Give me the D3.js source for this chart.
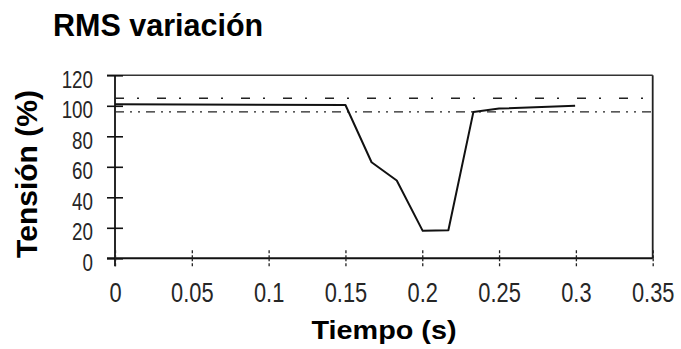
<!DOCTYPE html>
<html>
  <head>
    <title>RMS variación</title>
    <script src="https://d3js.org/d3.v7.min.js"></script>
    <style>
      body { margin: 0; background: #fff; }
      .tick text { font-family: "Liberation Sans", Arial, sans-serif; fill: #262626; }
      .title { font-family: "Liberation Sans", Arial, sans-serif; font-weight: bold; fill: #000; }
    </style>
  </head>
  <body>
    <svg width="681" height="349"></svg>

    <script type="text/javascript">
      // waveform
      var tiempo = [0, 0.15, 0.167, 0.1834, 0.2003, 0.217, 0.2333, 0.25, 0.2995];
      var tension = [101, 100.5, 63, 51, 18, 18.4, 96, 98.2, 100];

      // limit lines
      var limiteSup = 105;
      var limiteInf = 96;

      var xTicks = [0, 0.05, 0.1, 0.15, 0.2, 0.25, 0.3, 0.35];
      var xLabels = ["0", "0.05", "0.1", "0.15", "0.2", "0.25", "0.3", "0.35"];
      var yTicks = [0, 20, 40, 60, 80, 100, 120];
      var yLabels = ["0", "20", "40", "60", "80", "100", "120"];

      var svg = d3.select("svg");

      var x = d3.scaleLinear().domain([0, 0.35]).range([115, 652.7]);
      var y = d3.scaleLinear().domain([0, 120]).range([258.3, 75.3]);

      // frame: top and right border, axis lines
      svg.append("line")
        .attr("x1", 107).attr("x2", x(0.35))
        .attr("y1", y(120)).attr("y2", y(120))
        .style("stroke", "#333").style("stroke-width", 1.6);
      svg.append("line")
        .attr("x1", x(0.35)).attr("x2", x(0.35))
        .attr("y1", y(120)).attr("y2", y(0))
        .style("stroke", "#222").style("stroke-width", 1.8);
      svg.append("line")
        .attr("x1", 107).attr("x2", x(0.35))
        .attr("y1", y(0)).attr("y2", y(0))
        .style("stroke", "#111").style("stroke-width", 2);
      svg.append("line")
        .attr("x1", x(0)).attr("x2", x(0))
        .attr("y1", y(120)).attr("y2", y(0) + 8)
        .style("stroke", "#111").style("stroke-width", 1.8);

      // narrow digits, as in the scanned figure
      var sxY = 0.8, sxX = 0.78;

      // Y axis (outer ticks + labels), then inner ticks
      var yAxis = svg.append("g")
        .attr("transform", "translate(" + x(0) + ",0)")
        .call(d3.axisLeft(y).tickValues(yTicks).tickSize(8)
          .tickFormat(function (d, i) { return yLabels[i]; }));
      yAxis.select(".domain").remove();
      yAxis.selectAll(".tick line").style("stroke", "#111").style("stroke-width", 1.6);
      yAxis.selectAll(".tick text")
        .style("font-size", "23.5px")
        .attr("x", -22 / sxY)
        .attr("dy", "0.5em")
        .attr("transform", "scale(" + sxY + ",1)");
      var yAxisIn = svg.append("g")
        .attr("transform", "translate(" + x(0) + ",0)")
        .call(d3.axisLeft(y).tickValues(yTicks).tickSize(-8).tickFormat(""));
      yAxisIn.select(".domain").remove();
      yAxisIn.selectAll(".tick line").style("stroke", "#111").style("stroke-width", 1.6);

      // X axis (ticks cross the line)
      var xAxis = svg.append("g")
        .attr("transform", "translate(0," + y(0) + ")")
        .call(d3.axisBottom(x).tickValues(xTicks).tickSize(8).tickPadding(16)
          .tickFormat(function (d, i) { return xLabels[i]; }));
      xAxis.select(".domain").remove();
      xAxis.selectAll(".tick line").style("stroke", "#222").style("stroke-width", 1.3).style("stroke-dasharray", "3,2");
      xAxis.selectAll(".tick text")
        .style("font-size", "28px")
        .attr("transform", "scale(" + sxX + ",1)");
      var xAxisIn = svg.append("g")
        .attr("transform", "translate(0," + y(0) + ")")
        .call(d3.axisBottom(x).tickValues(xTicks).tickSize(-8).tickFormat(""));
      xAxisIn.select(".domain").remove();
      xAxisIn.selectAll(".tick line").style("stroke", "#222").style("stroke-width", 1.3).style("stroke-dasharray", "3,2");

      // limit lines
      svg.append("line")
        .attr("x1", x(0)).attr("x2", x(0.35))
        .attr("y1", y(limiteSup)).attr("y2", y(limiteSup))
        .style("stroke", "#222").style("stroke-width", 1.4)
        .style("stroke-dasharray", "9,13,2,18");
      svg.append("line")
        .attr("x1", x(0)).attr("x2", x(0.35))
        .attr("y1", y(limiteInf)).attr("y2", y(limiteInf))
        .style("stroke", "#222").style("stroke-width", 1.4)
        .style("stroke-dasharray", "9,6,2,6,2,6");

      // waveform
      var puntos = tiempo.map(function (t, i) { return [t, tension[i]]; });
      svg.append("path")
        .datum(puntos)
        .attr("fill", "none")
        .attr("stroke", "#111")
        .attr("stroke-width", 2)
        .attr("stroke-linejoin", "round")
        .attr("d", d3.line()
          .x(function (d) { return x(d[0]); })
          .y(function (d) { return y(d[1]); }));

      // titles
      svg.append("text")
        .attr("class", "title")
        .attr("x", 53).attr("y", 36)
        .style("font-size", "30.5px")
        .text("RMS variación");

      svg.append("text")
        .attr("class", "title")
        .attr("x", 384).attr("y", 339)
        .attr("text-anchor", "middle")
        .attr("textLength", 145)
        .attr("lengthAdjust", "spacingAndGlyphs")
        .style("font-size", "25px")
        .text("Tiempo (s)");

      svg.append("text")
        .attr("class", "title")
        .attr("transform", "translate(37,174) rotate(-90)")
        .attr("text-anchor", "middle")
        .style("font-size", "30px")
        .text("Tensión (%)");
    </script>
  </body>
</html>
